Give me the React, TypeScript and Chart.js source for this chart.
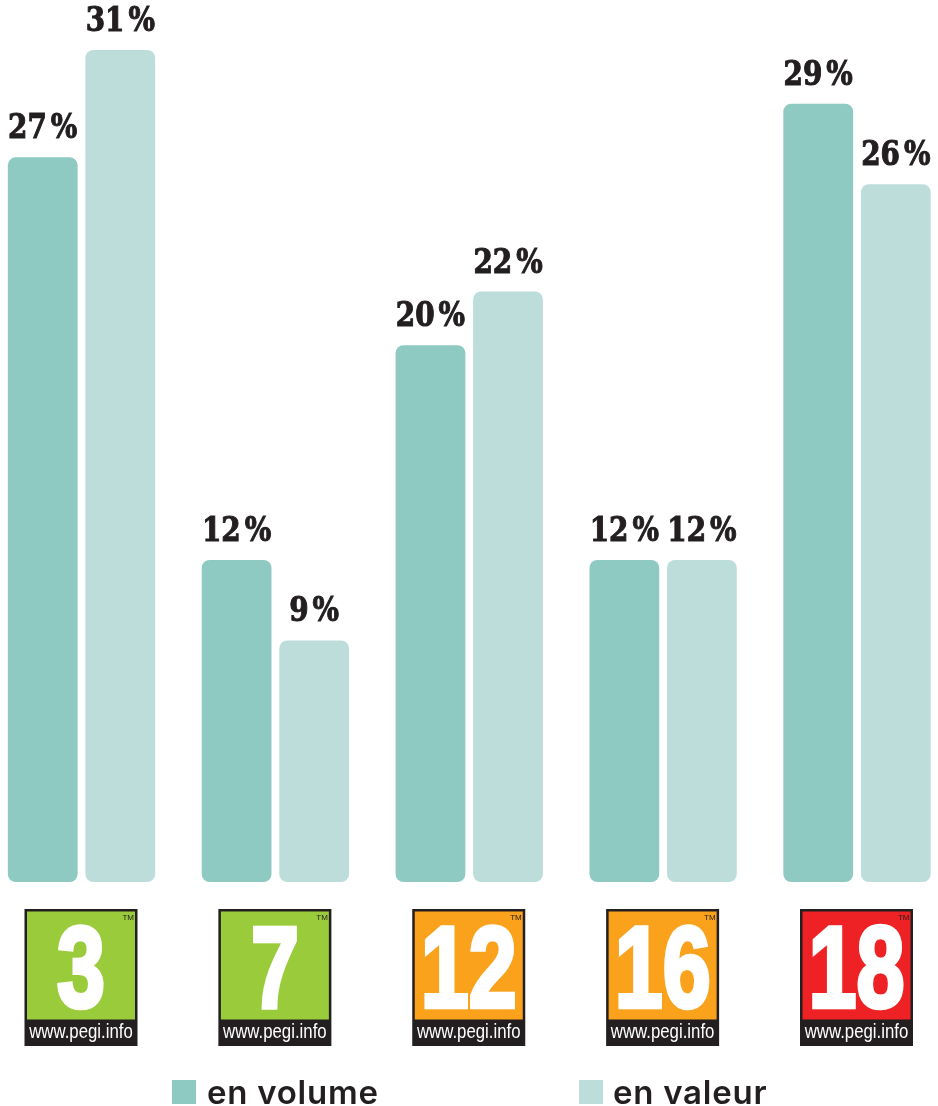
import React, { useEffect, useRef } from "react";
import { Chart, registerables } from "chart.js";

Chart.register(...registerables);

const ratings = ["3", "7", "12", "16", "18"];
const volumeShare = [27, 12, 20, 12, 29];
const valueShare = [31, 9, 22, 12, 26];
const ratingColors = ["#99cb3b", "#99cb3b", "#faa21b", "#faa21b", "#ee2224"];
const seriesNames = ["en volume", "en valeur"];
const seriesColors = ["#8ec9c2", "#bddddb"];
const INK = "#231f20";

// Percentage labels sitting just above each bar, in a squeezed heavy serif.
const valueLabels = {
  id: "valueLabels",
  afterDatasetsDraw(chart: any) {
    const { ctx } = chart;
    chart.data.datasets.forEach((ds: any, i: number) => {
      chart.getDatasetMeta(i).data.forEach((bar: any, j: number) => {
        const text = `${ds.data[j]} %`;
        ctx.save();
        ctx.translate(bar.x, bar.y - 19);
        ctx.scale(0.82, 1);
        ctx.font = "bold 34px 'DejaVu Serif'";
        ctx.fillStyle = INK;
        ctx.strokeStyle = INK;
        ctx.lineWidth = 1.1;
        ctx.textAlign = "center";
        ctx.textBaseline = "alphabetic";
        (ctx as any).wordSpacing = "-7px";
        ctx.fillText(text, 0, 0);
        ctx.strokeText(text, 0, 0);
        ctx.restore();
      });
    });
  },
};

// PEGI rating badges under each group, centred on the category position.
const ratingBadges = {
  id: "ratingBadges",
  afterDraw(chart: any) {
    const { ctx, scales } = chart;
    const top = 909;
    const w = 113;
    const h = 137;
    ratings.forEach((r, i) => {
      const cx = scales.x.getPixelForValue(i) - 0.5;
      const left = cx - w / 2;
      ctx.save();
      ctx.fillStyle = INK;
      ctx.fillRect(left, top, w, h);
      ctx.fillStyle = ratingColors[i];
      ctx.fillRect(left + 2.5, top + 2.5, w - 5, 108);

      ctx.save();
      ctx.translate(cx, top + 129);
      ctx.scale(0.84, 1);
      ctx.fillStyle = "#ffffff";
      ctx.textBaseline = "alphabetic";
      ctx.textAlign = "center";
      ctx.font = "20px 'Liberation Sans'";
      ctx.fillText("www.pegi.info", 0, 0);
      ctx.restore();

      ctx.fillStyle = INK;
      ctx.textAlign = "right";
      ctx.textBaseline = "alphabetic";
      ctx.font = "8px 'Liberation Sans'";
      ctx.fillText("TM", left + w - 3.5, top + 11);

      // Heavy condensed numeral, squeezed horizontally.
      ctx.translate(cx, top + 97.5);
      ctx.scale(0.75, 1);
      ctx.fillStyle = "#ffffff";
      ctx.strokeStyle = "#ffffff";
      ctx.lineWidth = 4.5;
      ctx.lineJoin = "miter";
      ctx.miterLimit = 3;
      ctx.textAlign = "center";
      ctx.font = "bold 115px 'Liberation Sans'";
      ctx.fillText(r, 0, 0);
      ctx.strokeText(r, 0, 0);
      ctx.restore();
    });
  },
};

// Legend row along the bottom edge, using each dataset's label and colour.
const legendRow = {
  id: "legendRow",
  afterDraw(chart: any) {
    const { ctx } = chart;
    const swatchX = [172, 579];
    const textX = [207, 613];
    ctx.save();
    chart.data.datasets.forEach((ds: any, i: number) => {
      ctx.fillStyle = ds.backgroundColor;
      ctx.fillRect(swatchX[i], 1080, 24, 24);
      ctx.fillStyle = INK;
      ctx.font = "600 33px Inter";
      (ctx as any).letterSpacing = "0.75px";
      ctx.textBaseline = "alphabetic";
      ctx.textAlign = "left";
      ctx.fillText(ds.label, textX[i], 1104);
    });
    ctx.restore();
  },
};

export default function App() {
  const ref = useRef<HTMLCanvasElement>(null);

  useEffect(() => {
    document.body.style.margin = "0";
    const chart = new Chart(ref.current as HTMLCanvasElement, {
      type: "bar",
      data: {
        labels: ratings,
        datasets: [
          { label: seriesNames[0], data: volumeShare, backgroundColor: seriesColors[0] },
          { label: seriesNames[1], data: valueShare, backgroundColor: seriesColors[1] },
        ],
      },
      plugins: [valueLabels, ratingBadges, legendRow],
      options: {
        animation: false,
        responsive: false,
        clip: false,
        layout: { padding: { left: 81.5, right: 81, top: 0, bottom: 224 } },
        datasets: {
          bar: {
            categoryPercentage: 0.8,
            barPercentage: 0.9,
            borderRadius: 8,
            borderSkipped: false,
          },
        },
        plugins: { legend: { display: false }, tooltip: { enabled: false } },
        scales: {
          x: { display: false, offset: false },
          y: { display: false, min: 0, max: 882 / 26.84 },
        },
      },
    } as any);
    return () => chart.destroy();
  }, []);

  return <canvas ref={ref} width={938} height={1106} style={{ display: "block" }} />;
}
